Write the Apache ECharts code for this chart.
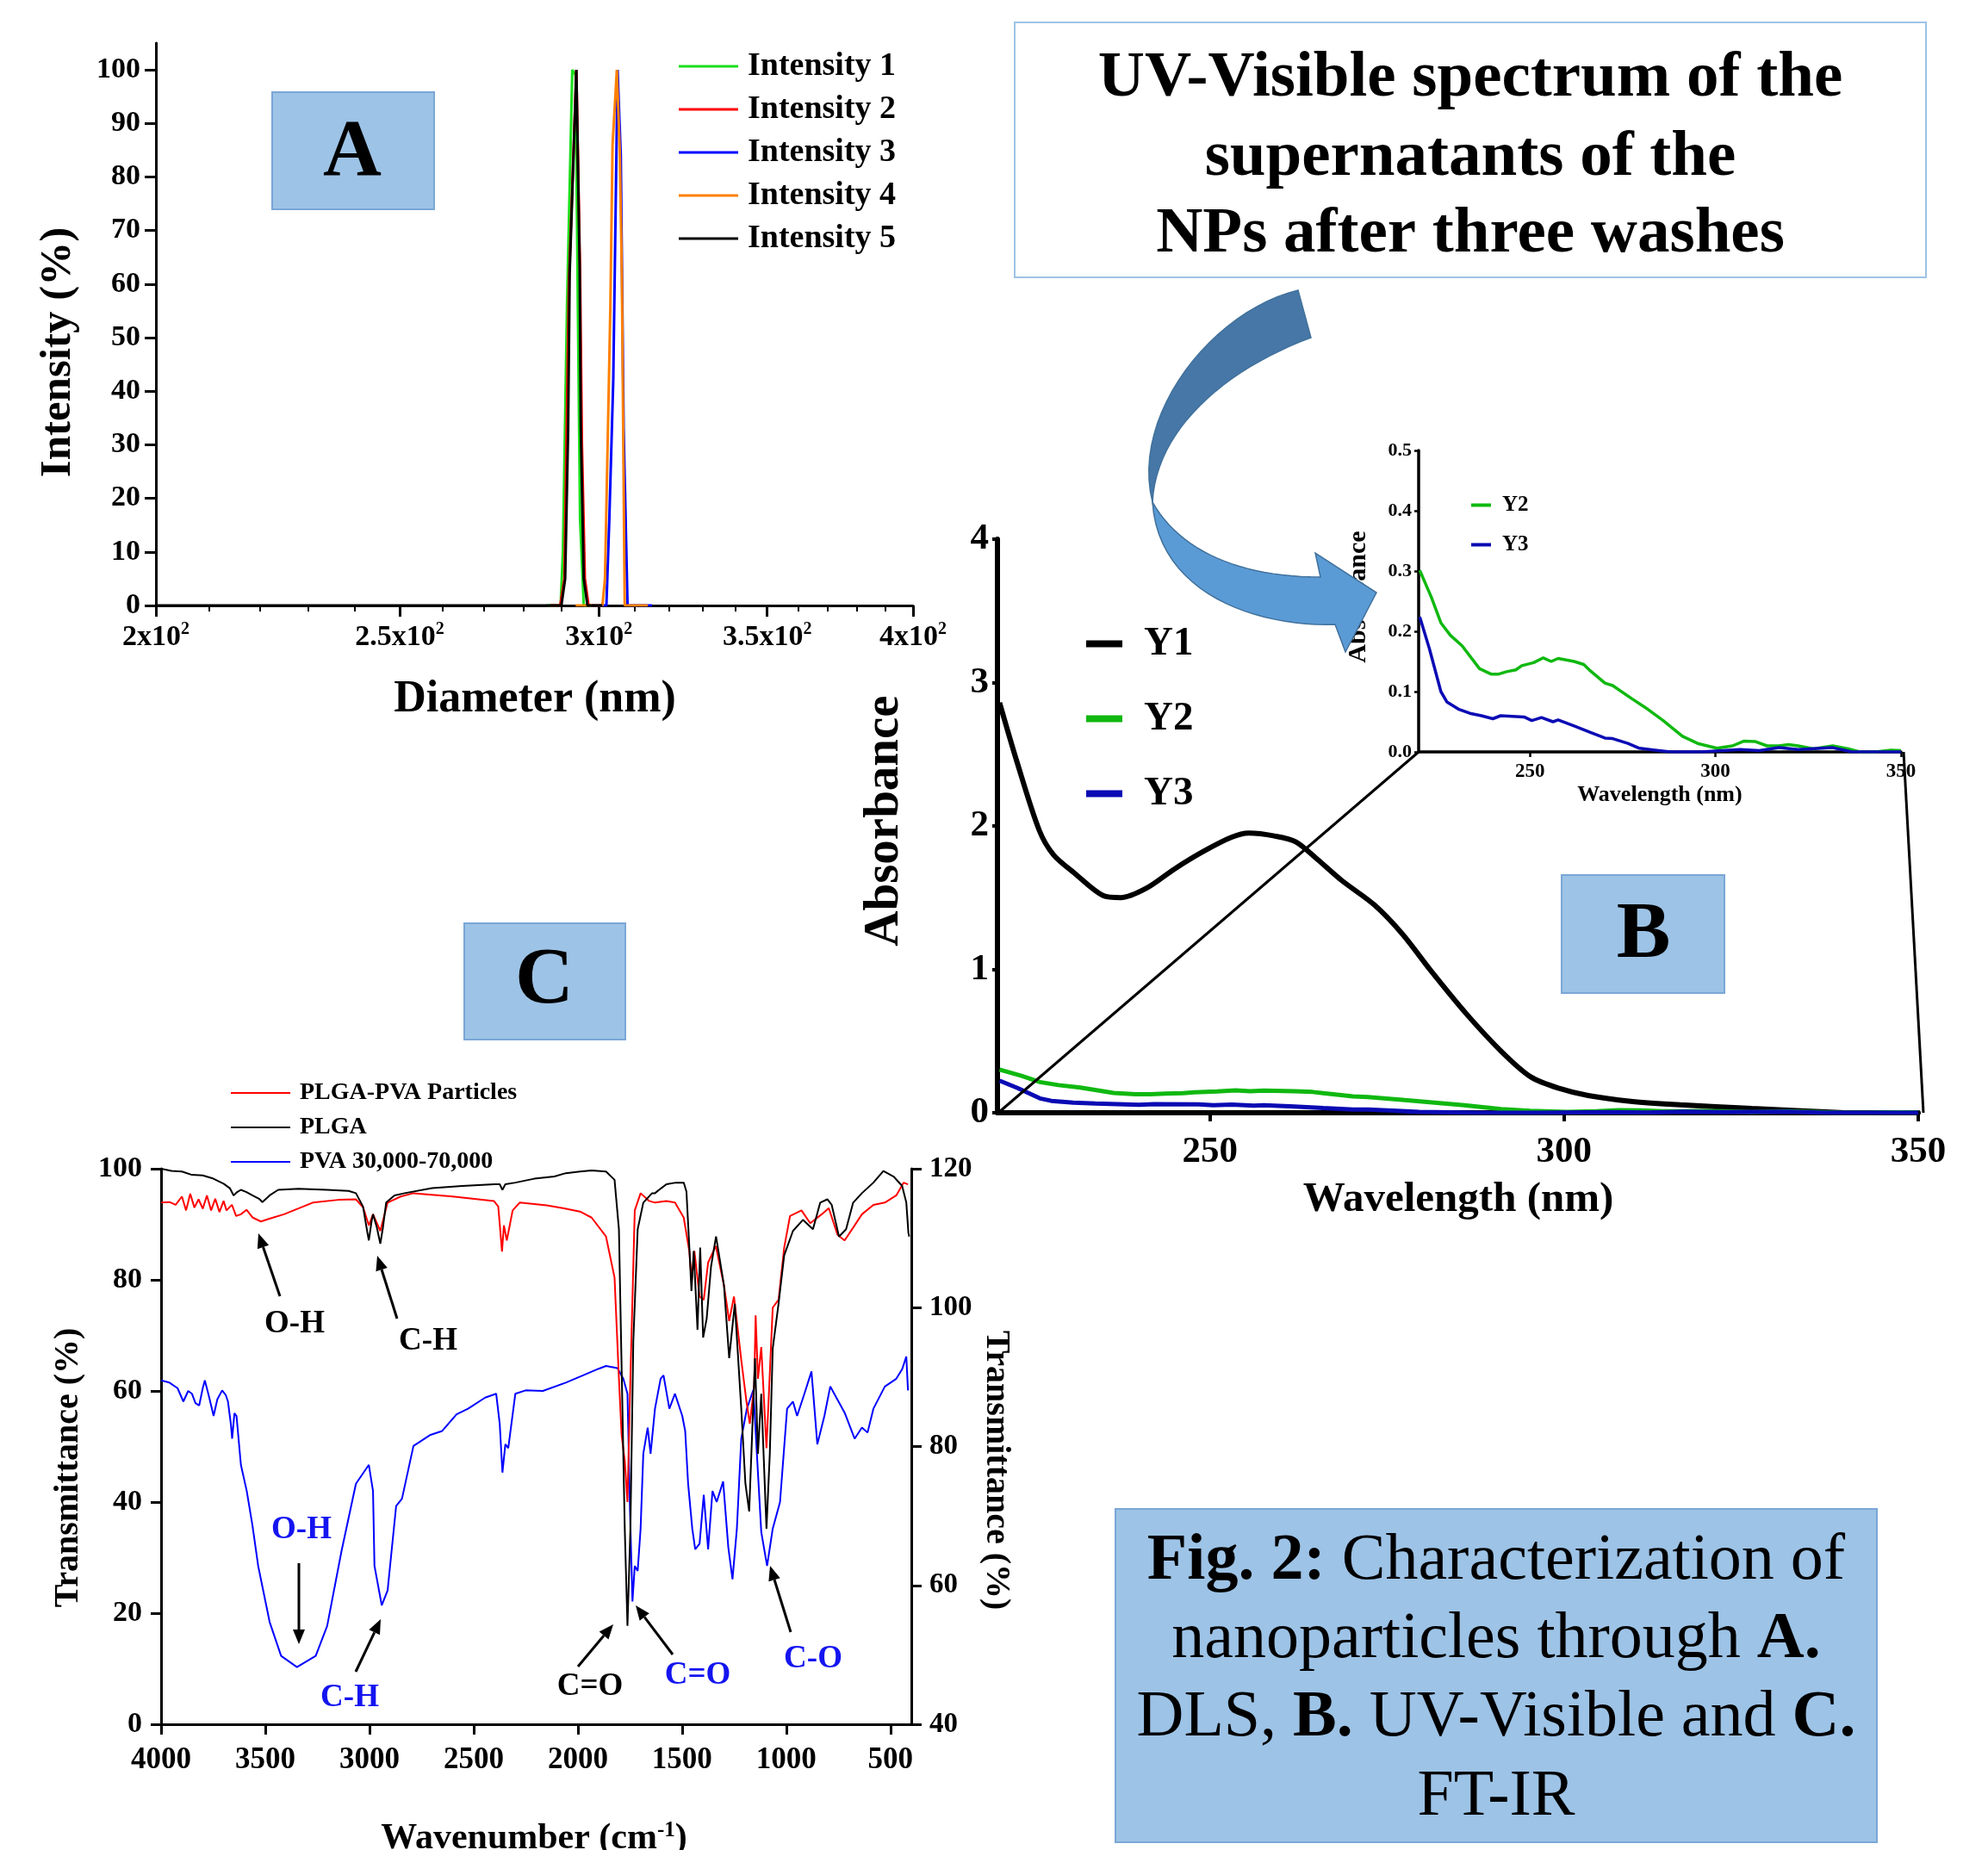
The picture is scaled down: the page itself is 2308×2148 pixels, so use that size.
<!DOCTYPE html>
<html>
<head>
<meta charset="utf-8">
<script src="https://cdn.jsdelivr.net/npm/echarts@6/dist/echarts.min.js"></script>
<style>
    html, body { margin: 0; padding: 0; background: #fff; }
    #main { width: 2308px; height: 2148px; }
</style>
</head>
<body>
<div id="main"></div>
<script>
    // ---------- A: DLS (diameter nm, intensity %) ----------
    var dlsTicks = [200, 250, 300, 350, 400];
    var intensityTicks = [0, 10, 20, 30, 40, 50, 60, 70, 80, 90, 100];
    var intensity1 = [[286, 0], [289.7, 0], [290.3, 10], [291.4, 56], [292.8, 100], [293.7, 99], [294.3, 56], [294.9, 16], [295.9, 0], [298, 0]];
    var intensity2 = [[287, 0], [289.6, 0], [290.7, 5], [291.9, 60], [293.9, 100], [294.9, 62], [295.4, 30], [296.2, 5], [297.2, 0]];
    var intensity3 = [[298, 0], [302.1, 0], [302.9, 16], [304.0, 42], [305.2, 100], [306.1, 84], [306.9, 33], [308.0, 0], [315, 0]];
    var intensity4 = [[293.7, 0], [301.0, 0], [301.7, 5], [303.2, 56], [303.8, 86], [305.0, 100], [305.8, 85], [306.4, 62], [307.2, 0], [313.8, 0]];
    var intensity5 = [[200, 0], [289.9, 0], [290.9, 5], [291.7, 33], [292.1, 62], [293.9, 100], [294.8, 63], [295.1, 33], [295.9, 5], [296.9, 0], [301, 0]];

    // ---------- B: UV-Vis (wavelength nm, absorbance) ----------
    var uvTicks = [250, 300, 350];
    var uvY1 = [[220.3, 2.86], [222.8, 2.44], [225.9, 1.97], [227.9, 1.80], [230.9, 1.67], [234.9, 1.515], [237.4, 1.50],
        [241.0, 1.565], [245.0, 1.70], [249.0, 1.82], [253.0, 1.92], [255.5, 1.95], [259.1, 1.93], [262.1, 1.89],
        [265.1, 1.77], [268.6, 1.62], [273.2, 1.45], [277.2, 1.245], [281.2, 0.99], [286.2, 0.69], [291.3, 0.42],
        [295.3, 0.25], [299.3, 0.17], [303.4, 0.12], [309.4, 0.08], [316.4, 0.055], [326.5, 0.03], [339.6, 0.0]];
    var uvY2 = [[220.3, 0.301], [223.4, 0.257], [226.0, 0.214], [228.6, 0.193], [231.7, 0.176], [236.4, 0.138], [239.5, 0.129],
        [241.6, 0.129], [243.7, 0.133], [246.2, 0.136], [247.8, 0.143], [251.0, 0.148], [253.6, 0.156], [255.7, 0.150],
        [257.6, 0.155], [261.9, 0.150], [264.5, 0.145], [266.0, 0.136], [270.2, 0.114], [272.3, 0.110], [277.5, 0.088],
        [281.7, 0.071], [285.9, 0.052], [291.1, 0.026], [295.2, 0.014], [300.4, 0.006], [304.6, 0.010], [307.7, 0.018],
        [310.8, 0.017], [313.9, 0.010], [317.1, 0.010], [319.7, 0.012], [322.3, 0.010], [326.4, 0.005], [331.6, 0.010],
        [335.8, 0.005], [338.9, 0.0], [343.1, 0.0], [347.3, 0.003], [350.0, 0.002]];
    var uvY3 = [[220.3, 0.224], [222.9, 0.171], [226.0, 0.100], [227.6, 0.083], [230.7, 0.071], [233.8, 0.064], [236.9, 0.060],
        [240.0, 0.055], [242.1, 0.060], [248.4, 0.058], [250.5, 0.052], [253.1, 0.057], [256.2, 0.050], [257.6, 0.053],
        [261.9, 0.043], [266.0, 0.033], [270.2, 0.023], [272.3, 0.022], [276.4, 0.014], [279.5, 0.006], [283.7, 0.003],
        [287.8, 0.0], [296.2, 0.0], [306.6, 0.004], [311.8, 0.002], [317.1, 0.007], [322.3, 0.004], [331.6, 0.007],
        [336.8, 0.0], [350.0, 0.0]];

    // ---------- C: FT-IR (wavenumber cm-1, transmittance %) ----------
    var irTicks = [4000, 3500, 3000, 2500, 2000, 1500, 1000, 500];
    var irPlgaPva = [[4000, 93.9], [3960, 94.0], [3930, 93.5], [3900, 95.0], [3880, 92.5], [3860, 95.5], [3840, 93.0], [3820, 94.5],
        [3800, 92.8], [3780, 95.2], [3760, 92.5], [3740, 94.6], [3720, 92.2], [3700, 94.2], [3686, 92.5], [3660, 93.5],
        [3640, 91.5], [3617, 91.8], [3590, 92.6], [3560, 91.2], [3521, 90.5], [3480, 91.0], [3410, 91.8], [3272, 93.9],
        [3150, 94.4], [3065, 94.5], [3030, 93.0], [3003, 89.8], [2983, 91.8], [2948, 88.8], [2913, 93.9], [2850, 95.0],
        [2789, 95.6], [2600, 95.0], [2403, 94.2], [2382, 93.2], [2364, 85.1], [2355, 89.8], [2341, 87.1], [2313, 92.5],
        [2279, 93.9], [2150, 93.4], [2072, 92.9], [1990, 92.3], [1934, 91.2], [1865, 87.8], [1824, 80.4], [1803, 62.2],
        [1790, 52.0], [1775, 47.4], [1762, 40.0], [1748, 62.2], [1727, 92.5], [1699, 95.6], [1658, 94.2], [1630, 93.9],
        [1575, 94.2], [1534, 93.9], [1492, 91.2], [1465, 85.1], [1454, 79.7], [1441, 85.2], [1416, 77.0], [1396, 76.4],
        [1375, 83.1], [1338, 86.1], [1299, 79.0], [1274, 72.6], [1251, 77.0], [1216, 65.6], [1191, 58.1], [1175, 54.1],
        [1154, 60.8], [1147, 73.6], [1136, 62.2], [1120, 67.9], [1095, 49.7], [1065, 75.0], [1037, 76.4], [1010, 85.8],
        [982, 91.5], [927, 92.5], [885, 90.2], [830, 91.8], [796, 92.9], [754, 88.1], [720, 87.1], [679, 89.4],
        [637, 91.8], [582, 93.5], [527, 93.9], [472, 95.2], [437, 97.5], [416, 97.2]];
    var irPlga = [[4000, 100], [3950, 99.6], [3900, 99.5], [3852, 98.9], [3800, 98.8], [3755, 98.3], [3700, 97.3], [3670, 96.5],
        [3652, 95.2], [3635, 95.8], [3617, 96.2], [3590, 95.8], [3562, 95.2], [3530, 94.6], [3514, 94.0], [3490, 94.8],
        [3479, 95.2], [3438, 96.2], [3341, 96.4], [3203, 96.2], [3100, 96.0], [3065, 95.6], [3031, 93.2], [3010, 88.5],
        [3003, 87.1], [2990, 90.5], [2983, 91.8], [2965, 89.5], [2948, 86.5], [2935, 89.5], [2920, 93.9], [2880, 95.2],
        [2831, 95.6], [2700, 96.5], [2555, 96.9], [2400, 97.2], [2375, 97.2], [2362, 96.2], [2348, 97.2], [2300, 97.5],
        [2210, 98.2], [2113, 98.6], [2058, 99.2], [1990, 99.5], [1934, 99.7], [1865, 99.5], [1824, 98.0], [1803, 89.1],
        [1789, 62.2], [1775, 35.2], [1762, 17.7], [1748, 35.2], [1734, 68.9], [1713, 89.1], [1686, 93.9], [1644, 95.6],
        [1630, 95.6], [1600, 96.5], [1575, 97.2], [1530, 97.5], [1492, 97.5], [1479, 95.9], [1465, 85.8], [1455, 78.0],
        [1444, 85.2], [1426, 71.0], [1413, 85.8], [1399, 69.6], [1382, 73.0], [1361, 82.4], [1337, 87.8], [1299, 79.0],
        [1274, 65.9], [1247, 75.7], [1216, 56.8], [1196, 43.3], [1178, 38.3], [1150, 65.9], [1136, 48.7], [1120, 59.5],
        [1095, 35.2], [1079, 48.7], [1065, 67.6], [1037, 75.7], [1010, 84.4], [968, 88.8], [920, 90.8], [872, 89.1],
        [837, 93.9], [803, 94.5], [782, 93.5], [747, 87.8], [713, 89.1], [679, 93.9], [637, 95.6], [582, 97.5],
        [534, 99.6], [485, 98.6], [444, 96.9], [424, 93.9], [414, 88.5], [410, 87.8]];
    var irPva = [[4000, 61.9], [3960, 61.5], [3921, 60.5], [3893, 58.1], [3870, 60.0], [3852, 59.5], [3835, 57.8], [3817, 57.4],
        [3800, 60.5], [3790, 61.9], [3770, 59.0], [3748, 55.5], [3730, 58.5], [3707, 60.1], [3690, 59.3], [3679, 58.1],
        [3665, 54.0], [3659, 51.4], [3648, 56.0], [3638, 55.5], [3617, 46.7], [3589, 42.0], [3562, 35.9], [3534, 28.5],
        [3479, 18.4], [3424, 12.3], [3348, 10.3], [3258, 12.3], [3203, 17.7], [3134, 31.2], [3065, 43.3], [3003, 46.7],
        [2983, 42.0], [2976, 28.5], [2941, 21.4], [2913, 24.1], [2872, 39.3], [2844, 40.6], [2789, 50.1], [2748, 51.1],
        [2707, 52.1], [2651, 52.8], [2582, 55.8], [2527, 56.8], [2445, 58.8], [2392, 59.5], [2375, 54.1], [2362, 45.3],
        [2348, 50.4], [2334, 49.7], [2300, 59.5], [2251, 60.1], [2168, 60.0], [2058, 61.5], [1975, 62.8], [1900, 64.0],
        [1865, 64.5], [1810, 64.1], [1782, 62.2], [1762, 59.5], [1750, 38.6], [1738, 22.1], [1727, 28.5], [1713, 27.6],
        [1699, 35.2], [1686, 48.7], [1665, 53.4], [1651, 48.7], [1630, 56.8], [1603, 62.2], [1589, 62.8], [1561, 56.8],
        [1534, 59.5], [1499, 55.5], [1485, 52.8], [1471, 43.3], [1451, 35.2], [1437, 31.5], [1416, 32.5], [1396, 41.3],
        [1375, 31.5], [1354, 42.0], [1334, 40.0], [1303, 43.7], [1278, 31.8], [1258, 26.1], [1237, 35.2], [1216, 51.4],
        [1189, 56.8], [1158, 60.2], [1141, 48.7], [1120, 34.6], [1092, 28.5], [1065, 35.2], [1030, 40.0], [996, 56.8],
        [968, 58.1], [948, 55.5], [913, 59.5], [879, 63.5], [851, 50.4], [817, 55.5], [789, 60.8], [720, 56.1],
        [672, 51.4], [637, 53.4], [610, 52.5], [582, 56.8], [527, 60.8], [472, 62.2], [444, 63.9], [424, 66.2], [416, 60.1]];

    var FONT = 'Liberation Serif';

    // log10 space for the DLS diameter axis
    var toLog = function (arr) {
        return arr.map(function (p) { return [Math.log10(p[0]), p[1]]; });
    };
    var minorDls = [];
    for (var d = 210; d < 400; d += 10) {
        if (dlsTicks.indexOf(d) < 0) minorDls.push(Math.log10(d));
    }

    var labelStyle = function (size, margin) {
        return { color: '#000', fontFamily: FONT, fontWeight: 'bold', fontSize: size, margin: margin };
    };
    var lineAxis = function (w) {
        return { show: true, lineStyle: { color: '#000', width: w } };
    };
    var tick = function (len, w, vals) {
        var t = { show: true, inside: false, length: len, lineStyle: { color: '#000', width: w } };
        if (vals) t.customValues = vals;
        return t;
    };
    var lineSeries = function (name, data, color, width, xi, yi, smooth) {
        return {
            name: name, type: 'line', data: data, xAxisIndex: xi, yAxisIndex: yi,
            showSymbol: false, symbol: 'none', animation: false, smooth: smooth || false,
            lineStyle: { color: color, width: width }, itemStyle: { color: color }
        };
    };
    var legendOf = function (names, left, top, w, h, size, gap, pad) {
        return {
            data: names, orient: 'vertical', left: left, top: top, padding: 0,
            itemWidth: w, itemHeight: h, itemGap: gap, icon: 'rect', selectedMode: false,
            textStyle: { color: '#000', fontFamily: FONT, fontWeight: 'bold', fontSize: size, lineHeight: size, padding: [0, 0, 0, pad] }
        };
    };

    // graphic helpers
    var txt = function (x, y, text, size, opt) {
        opt = opt || {};
        return {
            type: 'text', x: x, y: y, rotation: opt.rot || 0, z: opt.z || 60,
            style: {
                text: text, fontFamily: FONT, fontSize: size, fontWeight: opt.normal ? 'normal' : 'bold',
                fill: opt.color || '#000', textAlign: 'center', textVerticalAlign: 'middle',
                align: 'center', verticalAlign: 'middle', rich: opt.rich
            }
        };
    };
    var box = function (x, y, w, h, fill, stroke) {
        return { type: 'rect', z: 5, shape: { x: x, y: y, width: w, height: h }, style: { fill: fill, stroke: stroke, lineWidth: 2 } };
    };
    var arrow = function (x1, y1, x2, y2, color) {
        var dx = x2 - x1, dy = y2 - y1, L = Math.sqrt(dx * dx + dy * dy);
        var ux = dx / L, uy = dy / L, hl = 17, hw = 7;
        var bx = x2 - ux * hl, by = y2 - uy * hl;
        return [
            { type: 'line', z: 50, shape: { x1: x1, y1: y1, x2: bx, y2: by }, style: { stroke: color, lineWidth: 3 } },
            { type: 'polygon', z: 50, shape: { points: [[x2, y2], [bx - uy * hw, by + ux * hw], [bx + uy * hw, by - ux * hw]] }, style: { fill: color } }
        ];
    };
    // sample a cubic bezier into points for the curved block arrow outline
    var bez = function (p0, p1, p2, p3) {
        var pts = [];
        for (var i = 0; i <= 24; i++) {
            var t = i / 24, u = 1 - t;
            pts.push([
                u * u * u * p0[0] + 3 * u * u * t * p1[0] + 3 * u * t * t * p2[0] + t * t * t * p3[0],
                u * u * u * p0[1] + 3 * u * u * t * p1[1] + 3 * u * t * t * p2[1] + t * t * t * p3[1]
            ]);
        }
        return pts;
    };
    var arrowDark = bez([1507, 337], [1410, 360], [1312, 480], [1338, 583])
        .concat(bez([1338, 583], [1342, 500], [1420, 430], [1522, 392]));
    var arrowLight = bez([1338, 583], [1345, 690], [1460, 728], [1550, 725])
        .concat([[1562, 757], [1598, 688], [1527, 642]])
        .concat(bez([1533, 670], [1440, 670], [1370, 640], [1338, 583]));

    var BLUEBOX = '#9DC3E6', BLUEEDGE = '#7AA7D6', IRBLUE = '#1414F0';
    var sup = function (size, lh) {
        return {
            n: { fontFamily: FONT, fontWeight: 'bold', fontSize: size, lineHeight: lh, color: '#000' },
            s: { fontFamily: FONT, fontWeight: 'bold', fontSize: Math.round(size * 0.6), lineHeight: Math.round(size * 0.6), verticalAlign: 'top', color: '#000' }
        };
    };
    var capRich = {
        b: { fontFamily: FONT, fontWeight: 'bold', fontSize: 76, color: '#000' },
        n: { fontFamily: FONT, fontWeight: 'normal', fontSize: 76, color: '#000' }
    };

    var graphics = [
        // panel boxes and letters
        box(316, 107, 188, 136, BLUEBOX, BLUEEDGE),
        txt(409, 179, 'A', 94),
        box(1813, 1016, 189, 137, BLUEBOX, BLUEEDGE),
        txt(1908, 1087, 'B', 94),
        box(539, 1072, 187, 135, BLUEBOX, BLUEEDGE),
        txt(632, 1140, 'C', 94),
        // title box of B
        box(1178, 26, 1058, 296, '#fff', BLUEBOX),
        txt(1707, 92, 'UV-Visible spectrum of the', 75),
        txt(1707, 184, 'supernatants of the', 75),
        txt(1707, 273, 'NPs after three washes', 75),
        // axis titles
        txt(68, 409, 'Intensity (%)', 51, { rot: Math.PI / 2 }),
        txt(621, 813, 'Diameter (nm)', 52),
        txt(1027, 953, 'Absorbance', 57, { rot: Math.PI / 2 }),
        txt(1693, 1393, 'Wavelength (nm)', 49),
        txt(1577, 693, 'Absorbance', 30, { rot: Math.PI / 2, z: 10 }),
        txt(1927, 923, 'Wavelength (nm)', 26),
        txt(80, 1704, 'Transmittance (%)', 40, { rot: Math.PI / 2 }),
        txt(1156, 1707, 'Transmittance (%)', 40, { rot: -Math.PI / 2 }),
        txt(620, 2135, '{n|Wavenumber (cm}{s|-1}{n|)}', 42, { rich: sup(42, 44) }),
        // zoom lines between main B plot and inset
        { type: 'line', z: 40, shape: { x1: 1159, y1: 1292, x2: 1647, y2: 873 }, style: { stroke: '#000', lineWidth: 3 } },
        { type: 'line', z: 40, shape: { x1: 2210, y1: 873, x2: 2233, y2: 1292 }, style: { stroke: '#000', lineWidth: 3 } },
        // curved arrow (dark upper part, light lower part)
        { type: 'polygon', z: 80, shape: { points: arrowDark }, style: { fill: '#4677A6', stroke: '#41719C', lineWidth: 1.5 } },
        { type: 'polygon', z: 80, shape: { points: arrowLight }, style: { fill: '#5B9BD5', stroke: '#41719C', lineWidth: 1.5 } },
        // FT-IR band labels
        txt(342, 1537, 'O-H', 37),
        txt(497, 1557, 'C-H', 37),
        txt(350, 1776, 'O-H', 37, { color: IRBLUE }),
        txt(406, 1971, 'C-H', 37, { color: IRBLUE }),
        txt(685, 1958, 'C=O', 37),
        txt(810, 1945, 'C=O', 37, { color: IRBLUE }),
        txt(944, 1926, 'C-O', 37, { color: IRBLUE }),
        // caption box
        box(1295, 1752, 884, 387, BLUEBOX, BLUEEDGE),
        txt(1737, 1813, '{b|Fig. 2:}{n| Characterization of}', 76, { rich: capRich }),
        txt(1737, 1904, '{n|nanoparticles through }{b|A.}', 76, { rich: capRich }),
        txt(1737, 1995, '{n|DLS, }{b|B.}{n| UV-Visible and }{b|C.}', 76, { rich: capRich }),
        txt(1737, 2087, '{n|FT-IR}', 76, { rich: capRich })
    ];
    graphics = graphics
        .concat(arrow(325, 1505, 300, 1432, '#000'))
        .concat(arrow(461, 1531, 438, 1458, '#000'))
        .concat(arrow(347, 1815, 347, 1909, '#000'))
        .concat(arrow(413, 1941, 442, 1880, '#000'))
        .concat(arrow(671, 1935, 712, 1886, '#000'))
        .concat(arrow(781, 1921, 738, 1864, '#000'))
        .concat(arrow(918, 1895, 894, 1818, '#000'));

    var option = {
        backgroundColor: '#fff',
        animation: false,
        grid: [
            { left: 181, top: 50, width: 879, height: 653 },
            { left: 1158, top: 626, width: 1069, height: 666 },
            { left: 1647, top: 523, width: 560, height: 350 },
            { left: 187, top: 1357, width: 871, height: 645 }
        ],
        xAxis: [
            {
                gridIndex: 0, type: 'value', position: 'bottom', min: Math.log10(200), max: Math.log10(400),
                axisLine: lineAxis(3), splitLine: { show: false },
                axisTick: tick(13, 3, dlsTicks.map(Math.log10)),
                axisLabel: {
                    customValues: dlsTicks.map(Math.log10), margin: 18,
                    formatter: function (v) {
                        var m = Math.round(Math.pow(10, v)) / 100;
                        return '{n|' + m + 'x10}{s|2}';
                    },
                    rich: sup(34, 38)
                }
            },
            {
                gridIndex: 0, type: 'value', position: 'bottom', min: Math.log10(200), max: Math.log10(400),
                axisLine: { show: false }, axisLabel: { show: false }, splitLine: { show: false },
                axisTick: tick(7, 2, minorDls)
            },
            {
                gridIndex: 1, type: 'value', min: 220, max: 350,
                axisLine: lineAxis(6), splitLine: { show: false },
                axisTick: tick(10, 4, uvTicks),
                axisLabel: Object.assign({ customValues: uvTicks }, labelStyle(43, 24))
            },
            {
                gridIndex: 2, type: 'value', min: 220, max: 350,
                axisLine: lineAxis(3.5), splitLine: { show: false },
                axisTick: tick(6, 2.5, uvTicks),
                axisLabel: Object.assign({ customValues: uvTicks }, labelStyle(23, 12))
            },
            {
                gridIndex: 3, type: 'value', min: 400, max: 4000, inverse: true,
                axisLine: lineAxis(3), splitLine: { show: false },
                axisTick: tick(12, 3, irTicks),
                axisLabel: Object.assign({
                    customValues: irTicks,
                    formatter: function (v) { return String(v); }
                }, labelStyle(35, 24))
            }
        ],
        yAxis: [
            {
                gridIndex: 0, type: 'value', min: 0, max: 105,
                axisLine: lineAxis(3), splitLine: { show: false },
                axisTick: tick(13, 3, intensityTicks),
                axisLabel: Object.assign({ customValues: intensityTicks }, labelStyle(34, 18))
            },
            {
                gridIndex: 1, type: 'value', min: 0, max: 4, interval: 1,
                axisLine: lineAxis(6), splitLine: { show: false },
                axisTick: tick(6, 4),
                axisLabel: labelStyle(43, 10)
            },
            {
                gridIndex: 2, type: 'value', min: 0, max: 0.5, interval: 0.1,
                axisLine: lineAxis(3.5), splitLine: { show: false },
                axisTick: tick(5, 2.5),
                axisLabel: Object.assign({ formatter: function (v) { return v.toFixed(1); } }, labelStyle(22, 8))
            },
            {
                gridIndex: 3, type: 'value', min: 0, max: 100, interval: 20,
                axisLine: lineAxis(3), splitLine: { show: false },
                axisTick: tick(12, 3),
                axisLabel: labelStyle(34, 22)
            },
            {
                gridIndex: 3, type: 'value', position: 'right', min: 40, max: 120, interval: 20,
                axisLine: lineAxis(3), splitLine: { show: false },
                axisTick: tick(12, 3),
                axisLabel: labelStyle(33, 21)
            }
        ],
        legend: [
            legendOf(['Intensity 1', 'Intensity 2', 'Intensity 3', 'Intensity 4', 'Intensity 5'], 788, 58, 69, 3, 38, 12, 6),
            legendOf(['Y1', 'Y2', 'Y3'], 1261, 724, 42, 8, 47, 40, 20),
            legendOf(['Y2', 'Y3'], 1708, 574, 23, 4, 25, 21, 8),
            legendOf(['PLGA-PVA Particles', 'PLGA', 'PVA 30,000-70,000'], 268, 1255, 69, 2, 28, 12, 6)
        ],
        series: [
            lineSeries('Intensity 1', toLog(intensity1), '#1BE01B', 3, 0, 0),
            lineSeries('Intensity 2', toLog(intensity2), '#FF0000', 3, 0, 0),
            lineSeries('Intensity 3', toLog(intensity3), '#0000FF', 3, 0, 0),
            lineSeries('Intensity 4', toLog(intensity4), '#FF8000', 3, 0, 0),
            lineSeries('Intensity 5', toLog(intensity5), '#000000', 3, 0, 0),
            lineSeries('Y1', uvY1, '#000000', 6, 2, 1, 0.3),
            lineSeries('Y2', uvY2, '#10B810', 5, 2, 1),
            lineSeries('Y3', uvY3, '#0A0AB4', 5, 2, 1),
            lineSeries('Y2', uvY2, '#10B810', 3.5, 3, 2),
            lineSeries('Y3', uvY3, '#0A0AB4', 3.5, 3, 2),
            lineSeries('PVA 30,000-70,000', irPva, '#0000FF', 2, 4, 3),
            lineSeries('PLGA-PVA Particles', irPlgaPva, '#FF0000', 2, 4, 3),
            lineSeries('PLGA', irPlga, '#000000', 2, 4, 3)
        ],
        graphic: graphics
    };

    var myChart = echarts.init(document.getElementById('main'));
    myChart.setOption(option);
</script>
</body>
</html>
